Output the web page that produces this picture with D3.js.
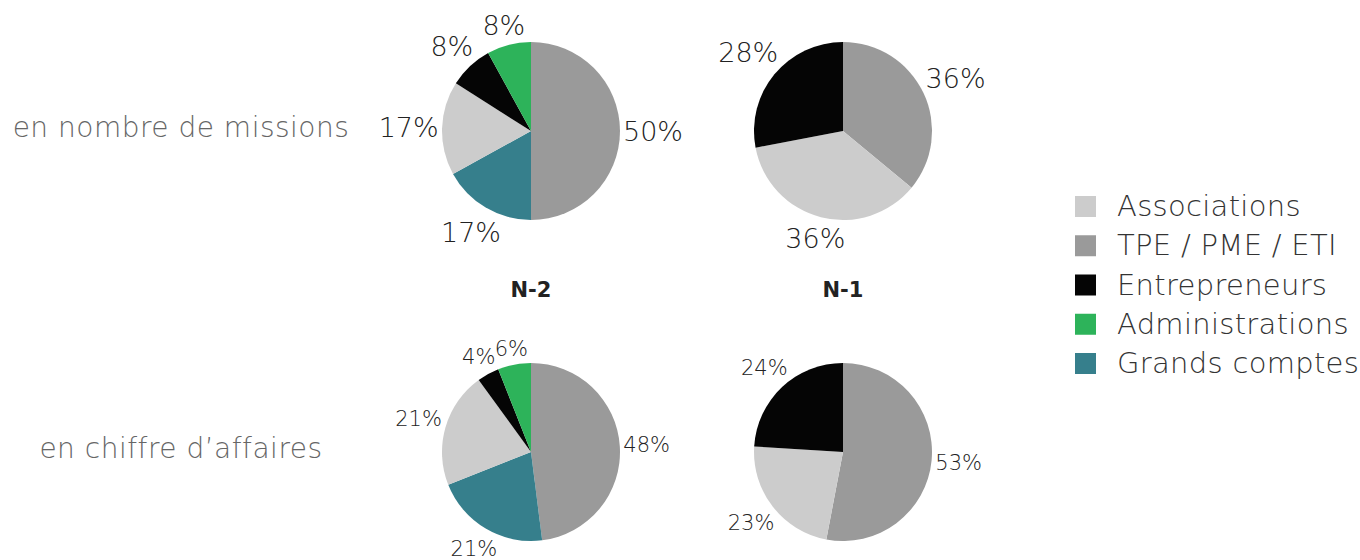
<!DOCTYPE html>
<html>
<head>
<meta charset="utf-8">
<script src="https://d3js.org/d3.v7.min.js"></script>
<style>
  body { margin: 0; background: #fff; }
  svg text { font-family: 'DejaVu Sans', sans-serif; }
  .pct { fill: #222; font-weight: 200; }
  .row-label { fill: #666; font-weight: 200; font-size: 28px; letter-spacing: 0.5px; }
  .year { fill: #222; font-weight: 700; font-size: 21px; }
  .legend text { fill: #333; font-weight: 200; font-size: 29px; letter-spacing: 0.3px; }
</style>
</head>
<body>
<script>
// categories in drawing order (clockwise from 12 o'clock)
var categories = ["TPE / PME / ETI", "Grands comptes", "Associations", "Entrepreneurs", "Administrations"];
var legendOrder = ["Associations", "TPE / PME / ETI", "Entrepreneurs", "Administrations", "Grands comptes"];
var colors = ["#9a9a9a", "#367f8c", "#cccccc", "#050505", "#2db35a"];

var years = ["N-2", "N-1"];
var rowLabels = ["en nombre de missions", "en chiffre d\u2019affaires"];

// percentages, same order as categories (0 = absent)
var missionsN2 = [50, 17, 17, 8, 8];
var missionsN1 = [36, 0, 36, 28, 0];
var caN2 = [48, 21, 21, 4, 6];
var caN1 = [53, 0, 23, 24, 0];

var pies = [
  {values: missionsN2, col: 0, row: 0, font: 27},
  {values: missionsN1, col: 1, row: 0, font: 27},
  {values: caN2, col: 0, row: 1, font: 21},
  {values: caN1, col: 1, row: 1, font: 21}
];

var W = 1360, H = 560;
var svg = d3.select("body").append("svg").attr("width", W).attr("height", H);

var color = d3.scaleOrdinal().domain(categories).range(colors);
var colX = d3.scalePoint().domain([0, 1]).range([531, 843]);
var rowY = d3.scalePoint().domain([0, 1]).range([131, 452]);
var r = 89;

var pie = d3.pie().sort(null).value(function(d) { return d.value; });
var arc = d3.arc().innerRadius(0).outerRadius(r);

pies.forEach(function(p) {
  var data = categories.map(function(c, i) { return {cat: c, value: p.values[i]}; })
    .filter(function(d) { return d.value > 0; });
  var g = svg.append("g")
    .attr("transform", "translate(" + colX(p.col) + "," + rowY(p.row) + ")");

  var arcs = pie(data);
  g.selectAll("path")
    .data(arcs)
    .enter().append("path")
    .attr("d", arc)
    .attr("fill", function(d) { return color(d.data.cat); });

  // labels placed outside, pushed out by text box extent
  var labels = g.selectAll("text")
    .data(arcs)
    .enter().append("text")
    .attr("class", "pct")
    .style("font-size", p.font + "px")
    .attr("text-anchor", "middle")
    .attr("dominant-baseline", "central")
    .text(function(d) { return d.data.value + "%"; });

  labels.each(function(d) {
    var bb = this.getBBox();
    var a = (d.startAngle + d.endAngle) / 2;
    var s = Math.sin(a), c = Math.cos(a);
    var dist = r + 3 + Math.abs(s) * bb.width / 2 + Math.abs(c) * bb.height * 0.4;
    d3.select(this).attr("x", s * dist).attr("y", -c * dist);
  });
});

// year labels
svg.selectAll(".year")
  .data(years)
  .enter().append("text")
  .attr("class", "year")
  .attr("x", function(d, i) { return colX(i); })
  .attr("y", 290)
  .attr("text-anchor", "middle")
  .attr("dominant-baseline", "central")
  .text(function(d) { return d; });

// row labels
svg.selectAll(".row-label")
  .data(rowLabels)
  .enter().append("text")
  .attr("class", "row-label")
  .attr("x", 181)
  .attr("y", function(d, i) { return rowY(i) - 4; })
  .attr("text-anchor", "middle")
  .attr("dominant-baseline", "central")
  .text(function(d) { return d; });

// legend
var legY = d3.scalePoint().domain(legendOrder).range([206, 363]);
var legend = svg.append("g").attr("class", "legend")
  .selectAll("g")
  .data(legendOrder)
  .enter().append("g")
  .attr("transform", function(d) { return "translate(1075," + legY(d) + ")"; });

legend.append("rect")
  .attr("x", 0).attr("y", -10)
  .attr("width", 21).attr("height", 21)
  .attr("fill", function(d) { return color(d); });

legend.append("text")
  .attr("x", 42)
  .attr("y", 0)
  .attr("dominant-baseline", "central")
  .text(function(d) { return d; });
</script>
</body>
</html>
